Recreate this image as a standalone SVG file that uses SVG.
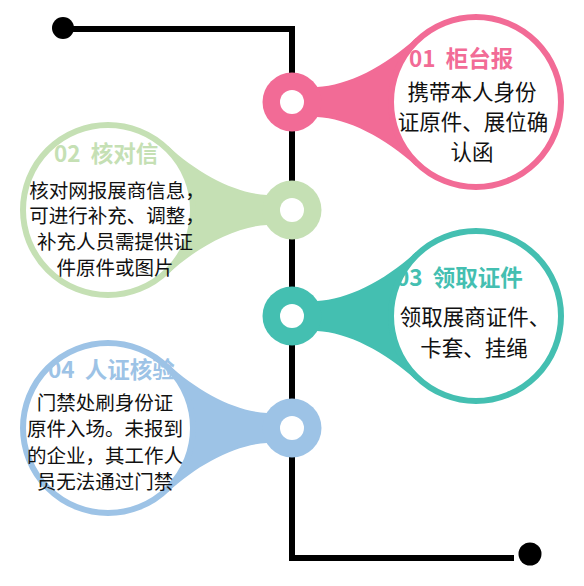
<svg xmlns="http://www.w3.org/2000/svg" xmlns:xlink="http://www.w3.org/1999/xlink" width="584" height="586" viewBox="0 0 584 586">
<style>
.t{font-family:"Noto Sans CJK SC","Noto Sans",sans-serif;font-weight:700;font-size:22.5px}
.b{font-family:"Noto Sans CJK SC","Noto Sans",sans-serif;fill:#111}
.b1{font-size:21.5px}
.b2{font-size:19.5px}
.ring{fill:#fff;stroke-width:6}
</style>
<defs>
<path id="neck" d="M25,-15 C55,-16 94,-36 124,-64 L124,64 C94,36 55,16 25,15 Z"/>
</defs>
<rect width="584" height="586" fill="#fff"/>
<g id="connectors">
<polyline points="63,29 292,29 292,558 514,558" fill="none" stroke="#000" stroke-width="6" stroke-linejoin="miter"/>
<circle cx="63" cy="28" r="11" fill="#000"/>
<circle cx="530" cy="554" r="11.5" fill="#000"/>
</g>
<g id="node1">
<g transform="translate(292,102)">
<use xlink:href="#neck" fill="#F26B96"/>
<circle cx="184" cy="0" r="85" class="ring" stroke="#F26B96"/>
<circle r="29.5" fill="#F26B96"/>
<circle r="12" fill="#fff"/>
</g>
<text class="t" x="409" y="67" fill="#F26B96" xml:space="preserve">01  柜台报</text>
<text class="b b1" text-anchor="middle" x="472" y="100">携带本人身份</text>
<text class="b b1" text-anchor="middle" x="473" y="130">证原件、展位确</text>
<text class="b b1" text-anchor="middle" x="472" y="160">认函</text>
</g>
<g id="node2">
<g transform="translate(292,210) scale(-1,1)">
<use xlink:href="#neck" fill="#C5E0B4"/>
<circle cx="184" cy="0" r="85" class="ring" stroke="#C5E0B4"/>
<circle r="29.5" fill="#C5E0B4"/>
<circle r="12" fill="#fff"/>
</g>
<text class="t" x="54" y="162" fill="#C5E0B4" xml:space="preserve">02  核对信</text>
<text class="b b2" text-anchor="middle" x="117" y="197.5">核对网报展商信息，</text>
<text class="b b2" text-anchor="middle" x="117" y="223">可进行补充、调整，</text>
<text class="b b2" text-anchor="middle" x="115" y="249">补充人员需提供证</text>
<text class="b b2" text-anchor="middle" x="115" y="275">件原件或图片</text>
</g>
<g id="node3">
<g transform="translate(292,316)">
<use xlink:href="#neck" fill="#44BFB1"/>
<circle cx="184" cy="0" r="85" class="ring" stroke="#44BFB1"/>
<circle r="29.5" fill="#44BFB1"/>
<circle r="12" fill="#fff"/>
</g>
<text class="t" x="396" y="286" fill="#44BFB1" xml:space="preserve">03  领取证件</text>
<text class="b b1" text-anchor="middle" x="475" y="325">领取展商证件、</text>
<text class="b b1" text-anchor="middle" x="474" y="356">卡套、挂绳</text>
</g>
<g id="node4">
<g transform="translate(292,428) scale(-1,1)">
<use xlink:href="#neck" fill="#9DC3E6"/>
<circle cx="184" cy="0" r="85" class="ring" stroke="#9DC3E6"/>
<circle r="29.5" fill="#9DC3E6"/>
<circle r="12" fill="#fff"/>
</g>
<text class="t" x="48" y="378" fill="#9DC3E6" xml:space="preserve">04  人证核验</text>
<text class="b b2" text-anchor="middle" x="105" y="409.5">门禁处刷身份证</text>
<text class="b b2" text-anchor="middle" x="105" y="436">原件入场。未报到</text>
<text class="b b2" text-anchor="middle" x="105" y="462.5">的企业，其工作人</text>
<text class="b b2" text-anchor="middle" x="105" y="489">员无法通过门禁</text>
</g>
</svg>
